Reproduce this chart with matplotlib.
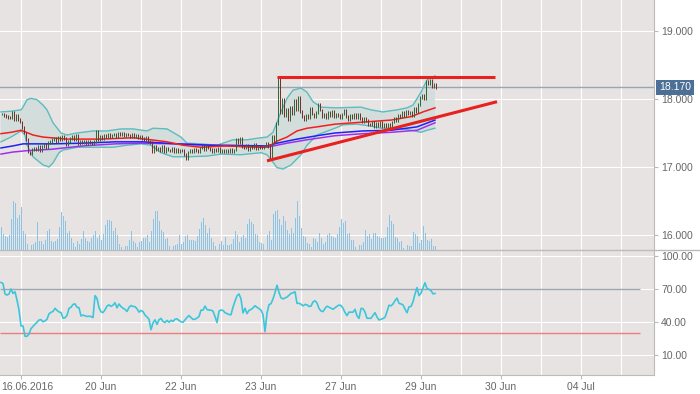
import matplotlib
matplotlib.use('Agg')
import matplotlib.pyplot as plt
import numpy as np
from matplotlib.lines import Line2D
from matplotlib.transforms import ScaledTranslation, blended_transform_factory

# ---- data (one entry per bar) ----
closes = [17.78, 17.76, 17.74, 17.73, 17.72, 17.80, 17.70, 17.76, 17.70,
          17.66, 17.58, 17.50, 17.40, 17.22, 17.20,
          17.26, 17.28, 17.25, 17.30, 17.24, 17.30, 17.33, 17.29, 17.36, 17.38,
          17.40, 17.42, 17.38, 17.44, 17.40, 17.45, 17.42, 17.33, 17.38,
          17.42, 17.45, 17.40, 17.46, 17.35,
          17.38, 17.36, 17.37, 17.34, 17.38, 17.36, 17.35, 17.37,
          17.52, 17.40, 17.45, 17.42, 17.46, 17.44, 17.48, 17.45, 17.47,
          17.48, 17.45, 17.49, 17.47, 17.50, 17.46, 17.48, 17.47,
          17.45, 17.48, 17.44, 17.46, 17.43, 17.45, 17.42,
          17.40, 17.43, 17.38, 17.36, 17.22, 17.30, 17.26,
          17.28, 17.24, 17.30, 17.22, 17.27, 17.25,
          17.24, 17.27, 17.22, 17.26, 17.23, 17.25, 17.24,
          17.18, 17.12, 17.22, 17.25, 17.22, 17.26, 17.24, 17.23,
          17.28, 17.31, 17.26, 17.30, 17.28, 17.26,
          17.22, 17.26, 17.24, 17.28, 17.22, 17.25, 17.23,
          17.24, 17.22, 17.26, 17.23, 17.25, 17.40, 17.36, 17.42, 17.30,
          17.28, 17.32, 17.26, 17.30, 17.28, 17.33, 17.27, 17.30, 17.29, 17.28, 17.31,
          17.35, 17.30, 17.13, 17.45, 17.38, 17.64, 18.32,
          17.80, 18.00, 17.75, 17.85, 17.70, 17.88, 17.78,
          17.98, 17.85, 18.03, 17.82, 17.74, 17.70, 17.76, 17.72,
          17.86, 17.78, 17.74, 17.80, 17.92, 17.84,
          17.74, 17.78, 17.72, 17.80, 17.76, 17.82, 17.74, 17.78,
          17.76, 17.72, 17.78, 17.84, 17.74,
          17.70, 17.76, 17.72, 17.78, 17.73, 17.77, 17.71,
          17.66, 17.72, 17.68, 17.63,
          17.62, 17.66, 17.60, 17.64, 17.61, 17.65, 17.60, 17.63, 17.59, 17.62,
          17.56, 17.66, 17.72, 17.68, 17.76, 17.74,
          17.80, 17.76, 17.82, 17.78, 17.80,
          17.76, 17.86, 17.82, 17.92, 18.02, 18.06, 18.00,
          18.26, 18.22, 18.28, 18.18, 18.22, 18.17]

volume = [69, 48, 42, 40, 45, 93, 147, 141, 97, 105,
          128, 57, 48, 18, 0, 15, 18, 24, 84, 27,
          27, 18, 30, 57, 63, 27, 24, 27, 33, 69,
          114, 102, 87, 51, 57, 36, 21, 9, 27, 18,
          33, 57, 36, 27, 24, 36, 45, 57, 36, 45,
          30, 48, 75, 90, 90, 87, 57, 66, 45, 18,
          9, 0, 12, 12, 30, 57, 27, 21, 9, 24,
          27, 36, 36, 45, 24, 57, 93, 117, 117, 87,
          60, 54, 33, 36, 12, 0, 12, 15, 18, 45,
          18, 24, 42, 45, 30, 30, 30, 27, 42, 63,
          84, 96, 75, 51, 66, 36, 24, 12, 0, 18,
          27, 15,
          39, 15, 15, 18, 33, 57, 45, 24, 39, 45,
          36, 78, 93, 84, 78, 48, 45, 24, 21, 18,
          0, 45, 57, 30, 108, 117, 120, 93, 75, 102,
          87, 60, 48, 66, 51, 96, 147, 102, 66, 42,
          39, 21, 18, 9, 36, 33, 24, 51, 36, 18,
          24, 45, 51, 42, 39, 36, 48, 69, 93, 81,
          87, 48, 51, 30, 30, 9, 0, 15, 15, 24,
          60, 42, 48, 33, 51, 51, 42, 39, 36, 36,
          39, 69, 105, 87, 78, 39, 36, 24, 27, 6,
          0, 15, 12, 12, 54, 48, 42, 21, 30, 72,
          51, 30, 27, 33, 12, 12]

rsi = [76, 75, 65.5, 64.5, 65.5, 70, 66, 67.5, 60, 51,
       36.4, 36.4, 27, 27, 29, 34, 36, 38, 39.8, 41.8,
       42.2, 40.2, 41, 42.5, 47.5, 48.8, 49.6, 52.5, 50.5, 49.2,
       48.6, 43.5, 43.8, 46, 52.5, 53.4, 56, 56.5, 53.4, 53,
       45.5, 46.3, 45.7, 45, 45.3, 45, 44, 64, 61.5, 53,
       49.2, 48.6, 51, 54.5, 55.6, 54.2, 55.3, 57.5, 52.9, 56.4,
       54, 52.6, 51.5, 49.6, 53.3, 55, 54.1, 54, 52, 49,
       50.5, 49.5, 46.3, 44.5, 42.5, 33, 39.2, 42, 37.8, 42,
       43.3, 40.5, 39.5, 41.5, 39.8, 41.6, 40.5, 42.6, 42.9, 41.4,
       40.2, 39.8, 41.9, 44.2, 45.9, 44, 42.4, 42.5, 43.6, 45,
       50.8, 50.8, 54.5, 51.3, 50.9, 50.8, 49.9, 45, 39.5, 49.8,
       51, 50.5, 48.5, 47.7, 46.8, 46.6, 53.5, 59, 63.8, 65.5,
       61, 48.2, 52.5, 47.6, 50.6, 51.4, 52.8, 54.8, 53.4, 52.2,
       50.8, 46.8, 31.2, 47.9, 55.8, 56.7, 61, 66.7, 73.5, 66.8,
       62, 61, 61.8, 62.7, 64.4, 66, 66.6, 67.5, 57, 57,
       56.2, 54.7, 56, 55.6, 54.2, 54.4, 58.3, 59.3, 57.3, 52.3,
       50, 49.5, 52.3, 54.4, 53.5, 52.5, 51.6, 53, 54.3, 55.4,
       55, 52.5, 48.7, 45.8, 49, 49, 48.9, 51.5, 45.6, 43.3,
       52.3, 52.2, 49, 43.4, 43.4, 43.4, 46, 48.5, 44.5, 41.9,
       42.4, 43.2, 44.3, 49.5, 55.3, 54.7, 56.4, 59.4, 61.7, 57,
       56.4, 55.6, 51.8, 48.4, 53.8, 54.1, 58.4, 65.4, 71.3, 64,
       66.2, 71, 75.7, 70.5, 69.7, 68.5, 65.6, 66]

# Bollinger bands and moving averages, sampled at the bar indices given
upper_x = [0, 5, 10, 11, 13, 15, 18, 21, 23, 26, 30, 33, 38, 46, 53, 60, 66, 73, 76, 83,
           90, 93, 100, 108, 116, 123, 130, 133, 136, 140, 143, 146, 150, 153, 156, 160,
           167, 180, 185, 191, 198, 203, 206, 210, 213, 217]
upper = [17.81, 17.82, 17.84, 17.88, 17.99, 18.01, 17.99, 17.91, 17.84, 17.65, 17.50, 17.47,
         17.50, 17.53, 17.53, 17.56, 17.56, 17.53, 17.57, 17.56, 17.44, 17.35, 17.34, 17.32,
         17.40, 17.40, 17.43, 17.44, 17.51, 17.81, 18.01, 18.13, 18.16, 18.10, 17.96, 17.88,
         17.87, 17.88, 17.84, 17.81, 17.84, 17.87, 17.91, 18.10, 18.28, 18.34]
lower_x = [0, 5, 10, 12, 13, 16, 21, 24, 26, 29, 31, 33, 38, 50, 56, 63, 70, 75, 80, 86,
           93, 103, 110, 120, 130, 133, 136, 138, 141, 145, 150, 153, 158, 167, 171, 178,
           185, 190, 195, 201, 205, 210, 213, 217]
lower = [17.37, 17.44, 17.53, 17.47, 17.32, 17.15, 17.03, 17.00, 17.06, 17.21, 17.25, 17.26,
         17.29, 17.29, 17.29, 17.32, 17.34, 17.32, 17.21, 17.15, 17.15, 17.16, 17.19, 17.18,
         17.21, 17.18, 17.07, 16.99, 16.97, 17.03, 17.18, 17.32, 17.47, 17.57, 17.62, 17.63,
         17.60, 17.57, 17.57, 17.56, 17.54, 17.51, 17.54, 17.57]
ma_red_x = [0, 5, 10, 11, 16, 21, 25, 33, 50, 66, 75, 83, 91, 100, 112, 131, 135, 138, 143,
            148, 153, 158, 167, 181, 195, 205, 211, 217]
ma_red = [17.49, 17.51, 17.54, 17.53, 17.47, 17.44, 17.43, 17.41, 17.41, 17.43, 17.40, 17.37,
          17.32, 17.29, 17.31, 17.29, 17.32, 17.38, 17.44, 17.53, 17.57, 17.59, 17.63, 17.66,
          17.69, 17.74, 17.81, 17.87]
ma_blue_x = [0, 6, 11, 25, 41, 57, 71, 88, 105, 112, 133, 138, 148, 158, 167, 181, 195, 208, 217]
ma_blue = [17.28, 17.31, 17.34, 17.34, 17.35, 17.37, 17.37, 17.34, 17.32, 17.32, 17.31, 17.35,
           17.41, 17.46, 17.50, 17.53, 17.54, 17.59, 17.69]
ma_purple_x = [0, 6, 13, 25, 41, 57, 71, 88, 112, 133, 143, 153, 167, 181, 195, 208, 217]
ma_purple = [17.19, 17.22, 17.24, 17.26, 17.31, 17.34, 17.35, 17.34, 17.31, 17.29, 17.35, 17.40,
             17.46, 17.49, 17.51, 17.54, 17.65]

# drawn trend lines (bar index, price)
resist_x = [138, 247]
resist_y = [18.32, 18.32]
support_x = [133, 248]
support_y = [17.09, 17.96]
last_price = 18.17

date_pos = [10, 50, 90, 130, 170, 210, 250, 290]
date_labels = ['16.06.2016', '20 Jun', '22 Jun', '23 Jun', '27 Jun', '29 Jun', '30 Jun', '04 Jul']

# ---- figure ----
BG = '#E7E3E3'
TXT = '#666666'
SPINE = '#BBBBBB'
plt.rcParams['font.family'] = ['Liberation Sans', 'DejaVu Sans']

fig = plt.figure(figsize=(7, 3.94), dpi=100)
W, H = 700.0, 394.0
ax = fig.add_axes([0, 1 - 250 / H, 654 / W, 250 / H])
ax_r = fig.add_axes([0, 1 - 375 / H, 654 / W, 125 / H])

grid_pos = list(range(10, 327, 20))
for a in (ax, ax_r):
    a.set_facecolor(BG)
    a.set_xlim(-0.5, 326.5)
    for s in ('left', 'top', 'bottom'):
        a.spines[s].set_visible(False)
    a.spines['right'].set_color(SPINE)
    a.set_xticks(grid_pos, minor=True)
    a.grid(True, which='both', color='white', linewidth=0.8)
    a.set_axisbelow(True)
    a.tick_params(which='minor', length=0)

# price panel
ax.set_ylim(15.779, 19.456)
ax.set_xticks(date_pos)
ax.tick_params(axis='x', length=0, labelbottom=False)

ax.fill(np.r_[upper_x, lower_x[::-1]], np.r_[upper, lower[::-1]],
        color='#D3DDDC', zorder=1, lw=0)
ax.plot(upper_x, upper, color='#5BBDBD', lw=1, zorder=2)
ax.plot(lower_x, lower, color='#5BBDBD', lw=1, zorder=2)
ax.plot(ma_purple_x, ma_purple, color='#A02EF0', lw=1.1, zorder=3)
ax.plot(ma_blue_x, ma_blue, color='#1E22F5', lw=1.1, zorder=3)
ax.plot(ma_red_x, ma_red, color='#F51E1E', lw=1.1, zorder=3)

idx = np.arange(len(closes))
c = np.array(closes)
o = np.r_[c[0], c[:-1]]
lo = np.minimum(o, c) - 0.02
hi = np.maximum(o, c) + 0.02
up = c >= o
# shift a quarter bar so each 1 px line sits on a whole pixel column
ax.vlines(idx[up] + 0.25, lo[up], hi[up], color='#2F6A33', lw=0.72, zorder=4)
ax.vlines(idx[~up] + 0.25, lo[~up], hi[~up], color='#773030', lw=0.72, zorder=4)

ax.plot(resist_x, resist_y, color='#E8201E', lw=2.2, zorder=5, solid_capstyle='butt')
ax.plot(support_x, support_y, color='#E8201E', lw=2.2, zorder=5, solid_capstyle='butt')

ax.axhline(last_price, color='#9AA4B4', lw=1, zorder=2)

# volume overlay
axv = ax.twinx()
axv.set_ylim(0, 147 * 250 / 49.0)
axv.bar(idx, volume, width=0.5, align='edge', color='#8CC4E6', lw=0, zorder=2)
axv.set_yticks([])
for s in axv.spines.values():
    s.set_visible(False)
axv.set_xlim(-0.5, 326.5)

# price axis on the right (after twinx, which moves it)
ax.yaxis.tick_right()
ax.set_yticks([16, 17, 18, 19])
ax.set_yticklabels(['16.000', '17.000', '18.000', '19.000'])
tr = blended_transform_factory(ax.transAxes, ax.transData)
axv.text(1.0 + 5 / 654, last_price, '%.3f' % last_price, transform=tr, ha='left', va='center',
         color='white', fontsize=7.5, clip_on=False, zorder=10,
         bbox=dict(boxstyle='square,pad=0.28', facecolor='#4C6F97', edgecolor='none'))

# RSI panel
ax_r.yaxis.tick_right()
ax_r.set_ylim(-8.2, 105.5)
ax_r.set_yticks([10, 40, 70, 100])
ax_r.set_yticklabels(['10.00', '40.00', '70.00', '100.00'])
ax_r.spines['bottom'].set_visible(True)
ax_r.spines['bottom'].set_color(SPINE)
ax_r.set_xticks(date_pos)
ax_r.set_xticklabels(date_labels)
ax_r.tick_params(axis='x', direction='out', length=3, color=SPINE,
                 labelcolor=TXT, labelsize=7.5, pad=2)
ax_r.hlines([70], -0.5, 319.5, color='#9EA6B2', lw=1, zorder=2)
ax_r.hlines([30], -0.5, 319.5, color='#EE7E7E', lw=1, zorder=2)
ax_r.plot(idx, rsi, color='#3CC6DB', lw=1.2, zorder=3)

for a in (ax, ax_r):
    a.tick_params(axis='y', direction='out', length=3, color=SPINE,
                  labelcolor=TXT, labelsize=7.5, pad=2)

lab0 = ax_r.get_xticklabels()[0]
lab0.set_transform(lab0.get_transform() + ScaledTranslation(6 / 100, 0, fig.dpi_scale_trans))

fig.add_artist(Line2D([0, 1], [1 - 250 / H, 1 - 250 / H], color=SPINE, lw=1))

fig.savefig('out.png', dpi=100, facecolor='white')
